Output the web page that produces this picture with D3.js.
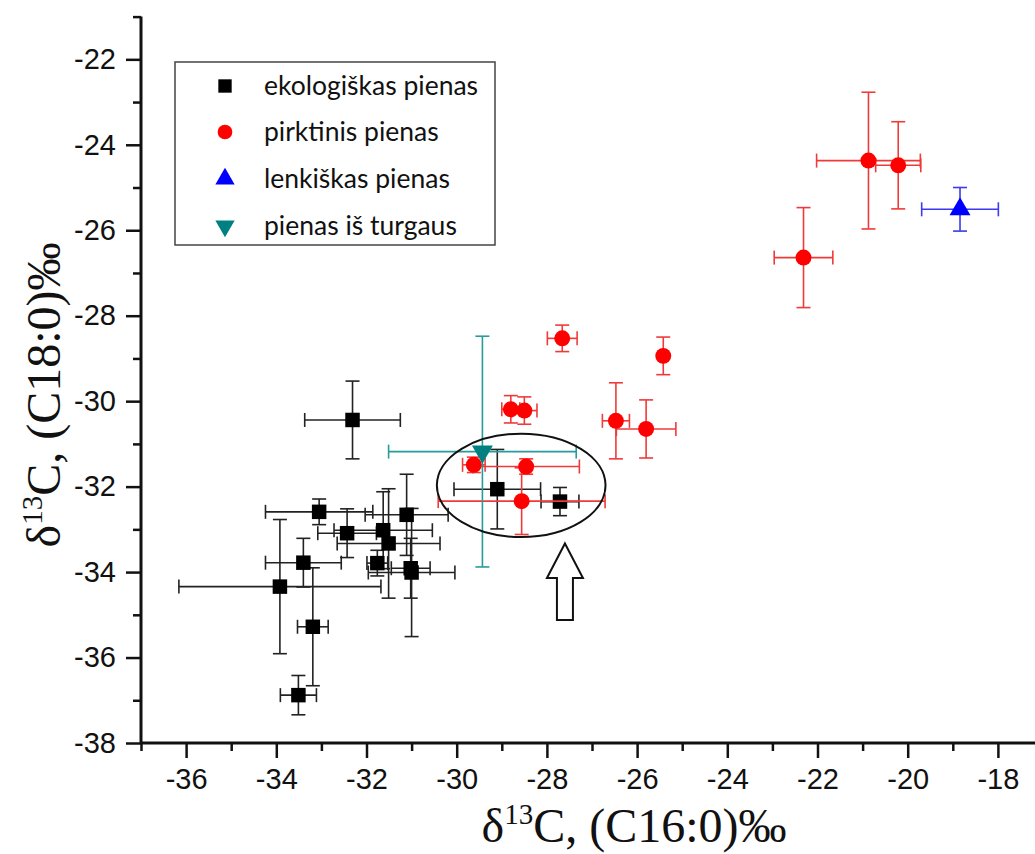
<!DOCTYPE html>
<html>
<head>
<meta charset="utf-8">
<script src="https://cdn.jsdelivr.net/npm/d3@7.9.0/dist/d3.min.js"></script>
<style>
  body { margin: 0; background: #fff; }
  svg { display: block; }
  .legend text { font-family: Lato, "Open Sans", sans-serif; font-size: 26.5px; fill: #111; }
</style>
</head>
<body>
<svg id="chart" width="1035" height="854"></svg>
<script>
// each row: [x, y, xErr, yErr]
const ekologiskas = [
  [-32.31, -30.44, 1.06, 0.91],
  [-33.05, -32.59, 1.19, 0.30],
  [-32.43, -33.09, 0.65, 0.57],
  [-31.63, -33.02, 1.09, 0.90],
  [-31.51, -33.33, 1.14, 1.28],
  [-31.11, -32.66, 0.92, 0.95],
  [-33.40, -33.78, 0.84, 0.57],
  [-33.92, -34.34, 2.24, 1.57],
  [-31.76, -33.79, 0.23, 0.30],
  [-31.02, -33.91, 0.43, 0.70],
  [-31.00, -34.01, 0.96, 1.50],
  [-33.19, -35.28, 0.34, 1.38],
  [-33.51, -36.88, 0.40, 0.46],
  [-29.10, -32.06, 0.96, 0.93],
  [-27.71, -32.35, 0.42, 0.33]
];

const pirktinis = [
  [-29.62, -31.49, 0.25, 0.18],
  [-28.46, -31.53, 1.18, 0.18],
  [-28.56, -32.34, 1.85, 0.78],
  [-28.80, -30.19, 0.20, 0.32],
  [-28.50, -30.22, 0.28, 0.32],
  [-27.66, -28.53, 0.33, 0.31],
  [-25.42, -28.94, 0.00, 0.44],
  [-26.47, -30.46, 0.30, 0.89],
  [-25.80, -30.65, 0.66, 0.68],
  [-22.31, -26.64, 0.65, 1.17],
  [-20.87, -24.37, 1.15, 1.60],
  [-20.21, -24.48, 0.50, 1.02]
];

const lenkiskas = [
  [-18.84, -25.51, 0.85, 0.51]
];

const turgaus = [
  [-29.43, -31.18, 2.08, 2.70]
];

const seriesNames = ['ekologiškas pienas', 'pirktinis pienas', 'lenkiškas pienas', 'pienas iš turgaus'];
const xTicks = [-36, -34, -32, -30, -28, -26, -24, -22, -20, -18];
const yTicks = [-38, -36, -34, -32, -30, -28, -26, -24, -22];

// highlighted group (ellipse) and arrow pointing at it
const ellipseCenter = [-28.57, -31.97];
const ellipseRadius = [1.87, 1.21];

const svg = d3.select('#chart');
svg.append('rect').attr('width', 1035).attr('height', 854).attr('fill', '#fff');

const x = d3.scaleLinear().domain([-37, -17]).range([141, 1043]);
const y = d3.scaleLinear().domain([-38, -21]).range([743, 16.6]);

// minor ticks
const xMinor = d3.range(-37, -16, 2);
const yMinor = d3.range(-37, -20, 2);

svg.append('g')
  .attr('transform', `translate(0,${y(-38)})`)
  .call(d3.axisBottom(x).tickValues(xMinor).tickSize(8).tickFormat(''))
  .call(g => g.select('.domain').remove())
  .selectAll('line').attr('stroke', '#111').attr('stroke-width', 2.5);

svg.append('g')
  .attr('transform', `translate(${x(-37)},0)`)
  .call(d3.axisLeft(y).tickValues(yMinor).tickSize(8).tickFormat(''))
  .call(g => g.select('.domain').remove())
  .selectAll('line').attr('stroke', '#111').attr('stroke-width', 2.5);

const tickFont = '"Liberation Sans", Arial, sans-serif';

const xAxis = svg.append('g')
  .attr('transform', `translate(0,${y(-38)})`)
  .call(d3.axisBottom(x).tickValues(xTicks).tickSize(15).tickPadding(10).tickFormat(d => String(d)))
  .call(g => g.select('.domain').remove());
xAxis.attr('font-family', tickFont).attr('font-size', 29);
xAxis.selectAll('text').attr('fill', '#111');
xAxis.selectAll('line').attr('stroke', '#111').attr('stroke-width', 2.5);

const yAxis = svg.append('g')
  .attr('transform', `translate(${x(-37)},0)`)
  .call(d3.axisLeft(y).tickValues(yTicks).tickSize(15).tickPadding(10).tickFormat(d => String(d)))
  .call(g => g.select('.domain').remove());
yAxis.attr('font-family', tickFont).attr('font-size', 29);
yAxis.selectAll('text').attr('fill', '#111');
yAxis.selectAll('line').attr('stroke', '#111').attr('stroke-width', 2.5);

// axis lines
svg.append('line')
  .attr('x1', x(-37)).attr('x2', 1035).attr('y1', y(-38)).attr('y2', y(-38))
  .attr('stroke', '#111').attr('stroke-width', 3);
svg.append('line')
  .attr('x1', x(-37)).attr('x2', x(-37)).attr('y1', y(-38)).attr('y2', y(-21))
  .attr('stroke', '#111').attr('stroke-width', 3);

// axis titles
function title(g, sub) {
  const t = g.append('text')
    .attr('font-family', '"Liberation Serif", "Times New Roman", serif')
    .attr('font-size', 48).attr('fill', '#111').attr('text-anchor', 'middle');
  t.append('tspan').text('δ');
  t.append('tspan').attr('font-size', 29).attr('dy', -18).text('13');
  t.append('tspan').attr('dy', 18).text(`C, (${sub}:0)‰`);
  return t;
}
title(svg.append('g').attr('transform', 'translate(634,842)'), 'C16');
title(svg.append('g').attr('transform', 'translate(60,395) rotate(-90)'), 'C18');

const plot = svg.append('g');

function drawErrors(data, color) {
  const g = plot.append('g').attr('stroke', color).attr('stroke-width', 1.6).attr('fill', 'none');
  const cap = 7;
  data.forEach(d => {
    const cx = x(d[0]), cy = y(d[1]);
    if (d[2] > 0) {
      const x0 = x(d[0] - d[2]), x1 = x(d[0] + d[2]);
      g.append('line').attr('x1', x0).attr('x2', x1).attr('y1', cy).attr('y2', cy);
      g.append('line').attr('x1', x0).attr('x2', x0).attr('y1', cy - cap).attr('y2', cy + cap);
      g.append('line').attr('x1', x1).attr('x2', x1).attr('y1', cy - cap).attr('y2', cy + cap);
    }
    const y0 = y(d[1] - d[3]), y1 = y(d[1] + d[3]);
    g.append('line').attr('x1', cx).attr('x2', cx).attr('y1', y0).attr('y2', y1);
    g.append('line').attr('x1', cx - cap).attr('x2', cx + cap).attr('y1', y0).attr('y2', y0);
    g.append('line').attr('x1', cx - cap).attr('x2', cx + cap).attr('y1', y1).attr('y2', y1);
  });
}

const shapes = [
  { data: ekologiskas, color: '#000', bar: '#222', sym: d3.symbolSquare, size: 210 },
  { data: pirktinis, color: '#ff0000', bar: '#f03a3a', sym: d3.symbolCircle, size: 200 },
  { data: lenkiskas, color: '#0000ff', bar: '#3a3af0', sym: d3.symbolTriangle, size: 190 },
  { data: turgaus, color: '#008080', bar: '#2a9a9a', sym: d3.symbolTriangle, size: 190, flip: true }
];

shapes.forEach(s => {
  drawErrors(s.data, s.bar);
  plot.append('g').selectAll('path')
    .data(s.data)
    .join('path')
    .attr('d', d3.symbol(s.sym, s.size))
    .attr('transform', d => `translate(${x(d[0])},${y(d[1])})${s.flip ? ' rotate(180)' : ''}`)
    .attr('fill', s.color);
});

// ellipse annotation
svg.append('ellipse')
  .attr('cx', x(ellipseCenter[0])).attr('cy', y(ellipseCenter[1]))
  .attr('rx', x(ellipseCenter[0] + ellipseRadius[0]) - x(ellipseCenter[0]))
  .attr('ry', y(ellipseCenter[1]) - y(ellipseCenter[1] + ellipseRadius[1]))
  .attr('fill', 'none').attr('stroke', '#111').attr('stroke-width', 2);

// hollow arrow
const ax = x(-27.6), tipY = y(-33.33), headY = y(-34.14), baseY = y(-35.12);
svg.append('path')
  .attr('d', `M${ax},${tipY} L${ax + 18},${headY} L${ax + 8},${headY} L${ax + 8},${baseY}
    L${ax - 8},${baseY} L${ax - 8},${headY} L${ax - 18},${headY} Z`)
  .attr('fill', '#fff').attr('stroke', '#111').attr('stroke-width', 2);

// legend
const legend = svg.append('g').attr('class', 'legend');
legend.append('rect')
  .attr('x', 175).attr('y', 62).attr('width', 320).attr('height', 183)
  .attr('fill', '#fff').attr('stroke', '#444').attr('stroke-width', 1.5);
const rowY = [86, 132, 179, 226];
shapes.forEach((s, i) => {
  legend.append('path')
    .attr('d', d3.symbol(s.sym, s.size * 0.85))
    .attr('transform', `translate(225,${rowY[i]})${s.flip ? ' rotate(180)' : ''}`)
    .attr('fill', s.color);
  legend.append('text')
    .attr('x', 264).attr('y', rowY[i]).attr('dy', '0.35em')
    .text(seriesNames[i]);
});
</script>
</body>
</html>
